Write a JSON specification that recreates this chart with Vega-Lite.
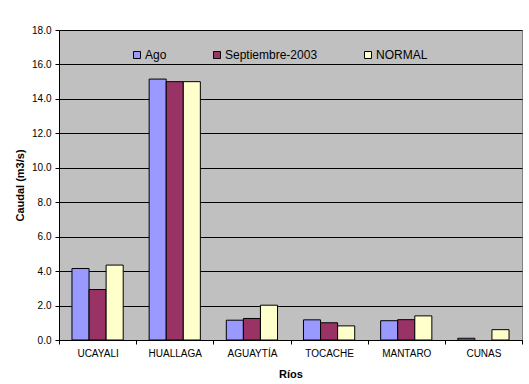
{
  "$schema": "https://vega.github.io/schema/vega-lite/v6.json",
  "width": 463,
  "height": 310,
  "autosize": {"type": "none"},
  "padding": {"left": 59, "top": 30, "right": 7, "bottom": 44},
  "background": "white",
  "config": {
    "font": "Liberation Sans",
    "view": {"fill": "#C0C0C0", "stroke": "#808080", "strokeWidth": 1}
  },
  "data": {
    "values": [
      {"rio": "UCAYALI", "serie": "Ago", "caudal": 4.15},
      {"rio": "UCAYALI", "serie": "Septiembre-2003", "caudal": 2.93},
      {"rio": "UCAYALI", "serie": "NORMAL", "caudal": 4.35},
      {"rio": "HUALLAGA", "serie": "Ago", "caudal": 15.15},
      {"rio": "HUALLAGA", "serie": "Septiembre-2003", "caudal": 15.0},
      {"rio": "HUALLAGA", "serie": "NORMAL", "caudal": 15.0},
      {"rio": "AGUAYTÍA", "serie": "Ago", "caudal": 1.15},
      {"rio": "AGUAYTÍA", "serie": "Septiembre-2003", "caudal": 1.25},
      {"rio": "AGUAYTÍA", "serie": "NORMAL", "caudal": 2.02},
      {"rio": "TOCACHE", "serie": "Ago", "caudal": 1.17},
      {"rio": "TOCACHE", "serie": "Septiembre-2003", "caudal": 1.0},
      {"rio": "TOCACHE", "serie": "NORMAL", "caudal": 0.82},
      {"rio": "MANTARO", "serie": "Ago", "caudal": 1.12},
      {"rio": "MANTARO", "serie": "Septiembre-2003", "caudal": 1.18},
      {"rio": "MANTARO", "serie": "NORMAL", "caudal": 1.4},
      {"rio": "CUNAS", "serie": "Ago", "caudal": 0.1},
      {"rio": "CUNAS", "serie": "NORMAL", "caudal": 0.6}
    ]
  },
  "mark": {"type": "bar", "stroke": "black", "strokeWidth": 1},
  "encoding": {
    "x": {
      "field": "rio",
      "type": "nominal",
      "sort": ["UCAYALI", "HUALLAGA", "AGUAYTÍA", "TOCACHE", "MANTARO", "CUNAS"],
      "scale": {"paddingInner": 0, "paddingOuter": 0},
      "axis": {
        "title": "Ríos",
        "labelAngle": 0,
        "tickBand": "extent",
        "domainColor": "black",
        "tickColor": "black",
        "tickSize": 4,
        "labelPadding": 4,
        "labelFontSize": 10,
        "labelColor": "black",
        "titleFontSize": 11,
        "titleFontWeight": "bold",
        "titleColor": "black",
        "titlePadding": 10
      }
    },
    "xOffset": {
      "field": "serie",
      "type": "nominal",
      "sort": ["Ago", "Septiembre-2003", "NORMAL"],
      "scale": {"paddingInner": 0, "paddingOuter": 0.76}
    },
    "y": {
      "field": "caudal",
      "type": "quantitative",
      "scale": {"domain": [0, 18], "nice": false},
      "axis": {
        "title": "Caudal (m3/s)",
        "values": [0, 2, 4, 6, 8, 10, 12, 14, 16, 18],
        "format": ".1f",
        "grid": true,
        "gridColor": "black",
        "gridOpacity": 1,
        "gridWidth": 1,
        "domainColor": "black",
        "tickColor": "black",
        "tickSize": 4,
        "labelPadding": 4,
        "labelFontSize": 10,
        "labelColor": "black",
        "titleFontSize": 11,
        "titleFontWeight": "bold",
        "titleColor": "black",
        "titlePadding": 6
      }
    },
    "color": {
      "field": "serie",
      "type": "nominal",
      "scale": {
        "domain": ["Ago", "Septiembre-2003", "NORMAL"],
        "range": ["#9999FF", "#993366", "#FFFFCC"]
      },
      "legend": {
        "title": null,
        "orient": "none",
        "direction": "horizontal",
        "legendX": 72,
        "legendY": 19,
        "symbolType": "square",
        "symbolSize": 49,
        "symbolStrokeColor": "black",
        "symbolStrokeWidth": 1,
        "symbolOpacity": 1,
        "labelFontSize": 12,
        "labelColor": "black",
        "labelOffset": 2,
        "columnPadding": 44
      }
    }
  }
}
